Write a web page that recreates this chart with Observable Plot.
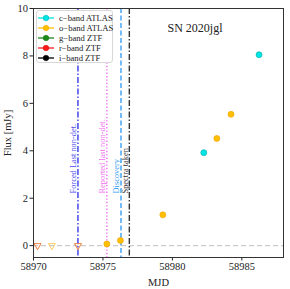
<!DOCTYPE html>
<html>
<head>
<meta charset="utf-8">
<script src="https://cdn.jsdelivr.net/npm/d3@7"></script>
<script src="https://cdn.jsdelivr.net/npm/@observablehq/plot@0.6"></script>
<style>
  html, body { margin: 0; padding: 0; background: #fff; }
  #wrap { position: relative; width: 290px; height: 289px; font-family: "Liberation Serif", serif; }
  #legend { position: absolute; left: 36px; top: 10px; width: 77px; height: 53px; background: #fff;
            border: 1px solid #d8d8d8; border-radius: 3px; box-sizing: border-box; padding-top: 2px; }
  .row { display: flex; align-items: center; height: 10px; font-size: 8.6px; color: #222; white-space: nowrap; }
  .row svg { margin-left: 1px; margin-right: 5px; flex: none; }
</style>
</head>
<body>
<div id="wrap"><div id="chart"></div><div id="legend"></div></div>
<script>
// ---- data ----
const cbandMJD = [58982.26, 58986.24];
const cbandFlux = [3.92, 8.05];
const obandMJD = [58975.28, 58976.26, 58979.31, 58983.20, 58984.22];
const obandFlux = [0.07, 0.22, 1.30, 4.52, 5.54];
const obandLimMJD = [58970.29, 58971.32, 58973.2];
const obandLimFlux = [0, 0, 0];
const rbandLimMJD = [58970.29, 58973.2];
const rbandLimFlux = [0, 0];
const eventNames = ["Forced Last non-det.", "Reported last non-det.", "Discovery", "Spectra taken"];
const eventMJD = [58973.2, 58975.28, 58976.3, 58976.9];
const legendLabels = ["c\u2212band ATLAS", "o\u2212band ATLAS", "g\u2212band ZTF", "r\u2212band ZTF", "i\u2212band ZTF"];
const xTicks = [58970, 58975, 58980, 58985];
const yTicks = [0, 2, 4, 6, 8, 10];
const objectName = "SN 2020jgl";

const cband = cbandMJD.map((m, i) => ({mjd: m, flux: cbandFlux[i]}));
const oband = obandMJD.map((m, i) => ({mjd: m, flux: obandFlux[i]}));
const obandLim = obandLimMJD.map((m, i) => ({mjd: m, flux: obandLimFlux[i]}));
const rbandLim = rbandLimMJD.map((m, i) => ({mjd: m, flux: rbandLimFlux[i]}));
const events = eventNames.map((n, i) => ({name: n, mjd: eventMJD[i]}));

const evStyles = [
  {stroke: "#3a3ae8", dash: "6,2,1.5,2", text: "#4a4af0"},
  {stroke: "#f070f0", dash: "1.4,2", text: "#f070f0"},
  {stroke: "#3aa0f5", dash: "5,2.5", text: "#3aa0f5"},
  {stroke: "#333333", dash: "6,2,1.5,2", text: "#333333"}
];

const marks = [
  Plot.ruleY([0], {stroke: "#cccccc", strokeWidth: 1.2, strokeDasharray: "5,3"}),
];
events.forEach((e, i) => {
  const s = evStyles[i];
  marks.push(Plot.ruleX([e], {x: "mjd", stroke: s.stroke, strokeWidth: 1.4, strokeDasharray: s.dash}));
  marks.push(Plot.text([e], {x: "mjd", y: () => 2.2, text: "name", rotate: -90, textAnchor: "start",
    dx: -4.5, fill: s.text, fontSize: 8.4, fontFamily: "Liberation Serif"}));
});
marks.push(
  Plot.dot(obandLim, {x: "mjd", y: "flux", symbol: "triangle", rotate: 180, r: 2.6, fill: "none",
    stroke: "#ffb000", strokeOpacity: 0.6, strokeWidth: 1}),
  Plot.dot(rbandLim, {x: "mjd", y: "flux", symbol: "triangle", rotate: 180, r: 2.6, fill: "none",
    stroke: "#e04040", strokeOpacity: 0.5, strokeWidth: 1}),
  Plot.dot(oband, {x: "mjd", y: "flux", r: 3, fill: "#ffc000", stroke: "#f0a000", strokeWidth: 0.6}),
  Plot.dot(cband, {x: "mjd", y: "flux", r: 3, fill: "#00e5e5", stroke: "#00a8a8", strokeWidth: 0.6}),
  Plot.text([objectName], {frameAnchor: "top-right", textAnchor: "end", dx: -61, dy: 19.5, lineAnchor: "middle",
    fontSize: 12, fill: "#222", fontFamily: "Liberation Serif"}),
  Plot.frame({stroke: "#333", strokeWidth: 1})
);

const chart = Plot.plot({
  width: 290,
  height: 289,
  marginLeft: 33,
  marginRight: 7,
  marginTop: 8,
  marginBottom: 32,
  style: {fontFamily: "Liberation Serif", fontSize: "10.5px", color: "#222", background: "#fff"},
  x: {domain: [58970, 58988], ticks: xTicks, tickFormat: d => String(d), label: "MJD",
      labelAnchor: "center", labelArrow: "none", labelOffset: 28, tickSize: 3.5, tickPadding: 2},
  y: {domain: [-0.5, 10], ticks: yTicks, tickFormat: d => String(d), label: "Flux [mJy]",
      labelAnchor: "center", labelArrow: "none", labelOffset: 30, tickSize: 3.5, tickPadding: 2},
  marks
});
document.getElementById("chart").appendChild(chart);

// legend
const legColors = ["#00e5e5", "#ffc000", "#1a8a1a", "#ff1a1a", "#000000"];
const legStroke = ["#00a8a8", "#f0a000", "#107010", "#d00000", "#000000"];
const leg = document.getElementById("legend");
legendLabels.forEach((lab, i) => {
  const row = document.createElement("div");
  row.className = "row";
  row.innerHTML = `<svg width="16" height="8"><line x1="0" y1="4" x2="16" y2="4" stroke="${legColors[i]}" stroke-width="1.3"/>` +
    `<circle cx="8" cy="4" r="2.8" fill="${legColors[i]}" stroke="${legStroke[i]}" stroke-width="0.5"/></svg><span>${lab}</span>`;
  leg.appendChild(row);
});
</script>
</body>
</html>
